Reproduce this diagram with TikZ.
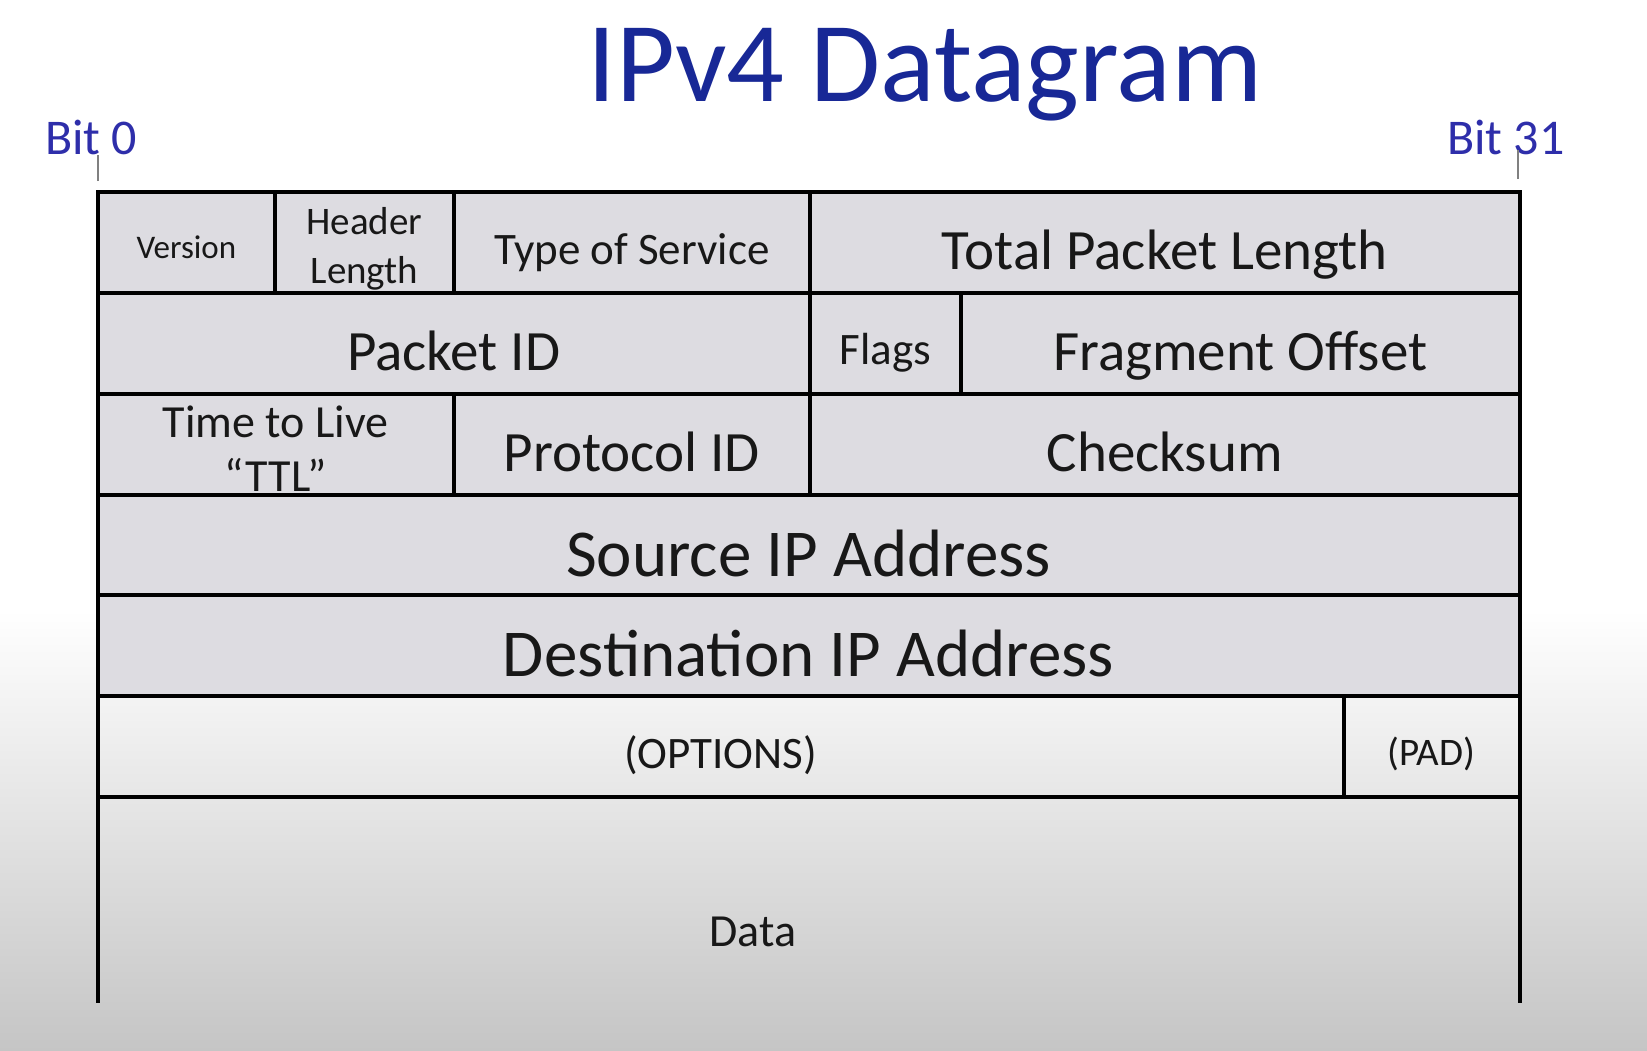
\documentclass[tikz,border=0pt]{standalone}
\usepackage{fontspec}
\setmainfont{Carlito}
\usetikzlibrary{positioning}
\definecolor{titleblue}{RGB}{24,40,150}
\definecolor{bitblue}{RGB}{46,46,170}
\definecolor{hdrfill}{RGB}{221,220,225}
\definecolor{bgbottom}{RGB}{197,197,197}
\definecolor{textdark}{RGB}{24,24,24}
\newcommand{\fsz}[2]{\fontsize{#1}{#2}\selectfont}

\begin{document}
\begin{tikzpicture}[
  x=1pt, y=-1pt,
  node distance=0pt,
  field/.style={draw=black, line width=4pt, fill=hdrfill, outer sep=0pt, inner sep=0pt,
    minimum height=100.8pt, align=center, text=textdark, font=\fsz{57}{62},
    text height=54pt, text depth=0pt},
  twolabel/.style={align=center, text=textdark, inner sep=0pt, yshift=-4pt},
  midfield/.style={field, font=\fsz{45}{52}, text height=43pt},
  widefield/.style={field, font=\fsz{67}{72}, text height=62pt, minimum width=1422pt},
  optfield/.style={field, fill=none, font=\fsz{45}{50}, text height=43pt},
  tick/.style={draw=gray, line width=2pt},
  bitlabel/.style={text=bitblue, font=\fsz{50}{55}, inner sep=0pt, anchor=base west},
  edge/.style={draw=black, line width=4pt}
]
\useasboundingbox (0,0) rectangle (1647,1051);
\fill[white] (0,0) rectangle (1647,610);
\shade[top color=white, bottom color=bgbottom] (0,610) rectangle (1647,1051);

\node[text=titleblue, font=\fsz{114}{120}, anchor=base, inner sep=0pt] (title) at (925,102) {IPv4 Datagram};

% first word
\node[field, anchor=north west, minimum width=177.7pt, font=\fsz{33}{38}, text height=32pt] (ver) at (97.5,192.2) {Version};
\node[field, right=of ver, minimum width=178.6pt,
  label={[twolabel, font=\fsz{39}{49}, yshift=-2pt]center:Header\\Length}] (hlen) {};
\node[midfield, right=of hlen, minimum width=356.1pt] (tos) {Type of Service};
\node[field, right=of tos, minimum width=709.6pt] (tlen) {Total Packet Length};

\node[field, anchor=north west, minimum width=712.4pt] (pid) at (ver.south west) {Packet ID};
\node[midfield, right=of pid, minimum width=151.2pt] (flags) {Flags};
\node[field, right=of flags, minimum width=558.4pt] (frag) {Fragment Offset};

\node[field, anchor=north west, minimum width=356.3pt,
  label={[twolabel, font=\fsz{46}{54}]center:Time to Live\\``TTL''}] (ttl) at (pid.south west) {};
\node[field, right=of ttl, minimum width=356.1pt] (proto) {Protocol ID};
\node[field, right=of proto, minimum width=709.6pt] (csum) {Checksum};

\node[widefield, anchor=north west] (src) at (ttl.south west) {Source IP Address};
\node[widefield, below=of src] (dst) {Destination IP Address};

\node[optfield, anchor=north west, minimum width=1246pt] (opt) at (dst.south west) {(OPTIONS)};
\node[optfield, right=of opt, minimum width=176pt, font=\fsz{39}{44}, text height=37pt] (pad) {(PAD)};

\coordinate (dataleft) at ([yshift=-206pt]opt.south west);
\coordinate (dataright) at ([yshift=-206pt]pad.south east);
\draw[edge] (opt.south west) -- (dataleft);
\draw[edge] (pad.south east) -- (dataright);
\node[text=textdark, font=\fsz{46}{50}] (data) at (753,932) {Data};

\node[bitlabel] (bit0) at (45,155) {Bit 0};
\node[bitlabel] (bit31) at (1447,155) {Bit 31};
\draw[tick] ([yshift=11pt]ver.north west) -- ([yshift=37pt]ver.north west);
\draw[tick] ([xshift=-1.5pt,yshift=13pt]tlen.north east) -- ([xshift=-1.5pt,yshift=42pt]tlen.north east);
\end{tikzpicture}
\end{document}
